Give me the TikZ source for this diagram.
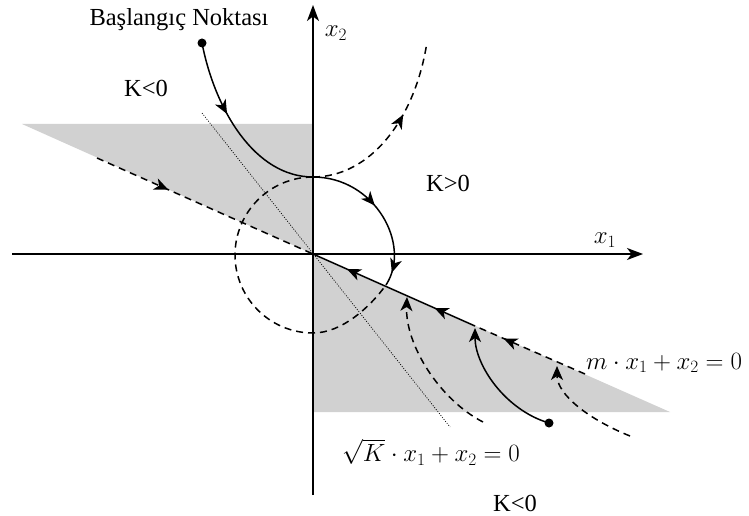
\documentclass[tikz,border=0pt]{standalone}
\usepackage{fontspec}
\setmainfont{Liberation Serif}
\usetikzlibrary{arrows.meta,decorations.markings}
\tikzset{
  tip/.tip={Stealth[length=14pt,width=12pt,inset=4pt]},
  traj/.style={line width=1.5pt},
  dsh/.style={line width=1.5pt, dash pattern=on 7pt off 5pt},
  arr/.style={postaction={decorate,decoration={markings,mark=at position #1 with {\arrow{tip}}}}},
  endarr/.style={-tip},
  lbl/.style={font=\fontsize{24.5}{28}\selectfont, inner sep=0pt},
  mlbl/.style={font=\fontsize{25}{29}\selectfont, inner sep=0pt},
  axis/.style={line width=1.5pt, -{Stealth[length=16pt,width=12pt,inset=4.5pt]}},
  shadearea/.style={fill=black!18, draw=none},
  dotline/.style={line width=0.7pt, dash pattern=on 1pt off 1.5pt},
}
\begin{document}
\begin{tikzpicture}[x=1pt,y=-1pt]
\useasboundingbox (0,0) rectangle (749,516);
% coordinates
\coordinate (O) at (313,254);
\coordinate (ul) at (22,124);
\coordinate (ut) at (313,124);
\coordinate (lb) at (313,412);
\coordinate (lr) at (670,412);
\coordinate (start) at (202,43);
\coordinate (top) at (313,177);
\coordinate (hit) at (386,285);
\coordinate (mend) at (475,326);
\coordinate (mfar) at (585,374);
\coordinate (mleft) at (97,158);
\coordinate (dot2) at (549,423);
% shading
\fill[shadearea] (ul) -- (ut) -- (O) -- cycle;
\fill[shadearea] (O) -- (lb) -- (lr) -- cycle;
% axes
\draw[axis] (12,254) coordinate (xa) -- (643,254) coordinate (xb);
\draw[axis] (313,495) coordinate (ya) -- (313,5) coordinate (yb);
% sqrt K line
\draw[dotline] (202,113) coordinate (d1) -- (450,427) coordinate (d2);
% m line
\draw[dsh, arr=0.33] (mleft) -- (O);
\draw[traj, arr=0.25, arr=0.79] (mend) -- (O);
\draw[dsh, arr=0.74] (mfar) -- (mend);
% main trajectory
\draw[traj, arr=0.22, arr=0.75, arr=0.96] (start) .. controls (215,110) and (255,177) .. (top)
   .. controls (375,177) and (412,245) .. (hit);
% dashed circle-like trajectory
\draw[dsh] (top) .. controls (270,177) and (235,212) .. (235,255)
   .. controls (235,298) and (270,333) .. (313,333)
   .. controls (342,333) and (370,307) .. (hit);
% dashed upper right
\draw[dsh, arr=0.6] (top) .. controls (370,177) and (415,120) .. (427,42) coordinate (ur);
% lower trajectories
\draw[dsh, endarr] (483,422) coordinate (l1) .. controls (440,400) and (405,345) .. (407,297);
\draw[traj, endarr] (dot2) .. controls (505,410) and (475,365) .. (475,328);
\draw[dsh, endarr] (630,436) coordinate (l3) .. controls (590,420) and (557,395) .. (557,366);
% dots
\fill (start) circle (4.5pt);
\fill (dot2) circle (4.5pt);
% labels
\node[lbl] (title) at (179,20) {Başlangıç Noktası};
\node[lbl] (k1) at (146,88) {K<0};
\node[lbl] (k2) at (448,183) {K>0};
\node[lbl] (k3) at (515,503) {K<0};
\node[mlbl] (x2) at (336,33) {$x_2$};
\node[mlbl] (x1) at (605,240) {$x_1$};
\node[mlbl] (meq) at (664,363) {$m\cdot x_1+x_2=0$};
\node[mlbl] (seq) at (431,452) {$\sqrt{K}\cdot x_1+x_2=0$};
\end{tikzpicture}
\end{document}
